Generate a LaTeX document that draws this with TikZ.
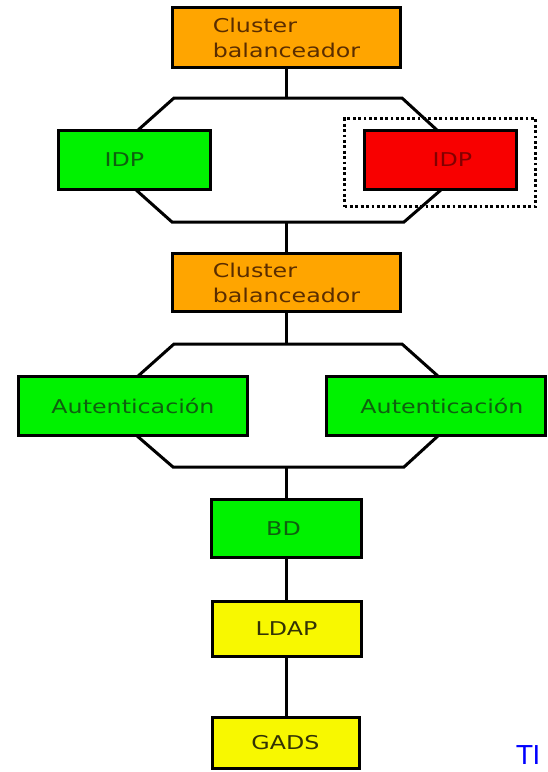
\documentclass[tikz,border=0pt]{standalone}
\usepackage{fontspec}
\setmainfont{DejaVu Sans}
\newfontfamily\boxfont[FakeStretch=1.25]{DejaVu Sans}
\usetikzlibrary{backgrounds}
\definecolor{fOrange}{RGB}{255,165,0}
\definecolor{tOrange}{RGB}{90,45,0}
\definecolor{fGreen}{RGB}{0,242,0}
\definecolor{tGreen}{RGB}{15,95,15}
\definecolor{fRed}{RGB}{248,0,0}
\definecolor{tRed}{RGB}{130,0,0}
\definecolor{fYellow}{RGB}{248,248,0}
\definecolor{tYellow}{RGB}{50,50,5}
\definecolor{tiBlue}{RGB}{0,0,255}
\begin{document}
\begin{tikzpicture}[x=1pt,y=-1pt,
  box/.style={draw=black, line width=3pt, inner sep=0pt,
    font=\boxfont\fontsize{19}{25}\selectfont},
  orangebox/.style={box, fill=fOrange, text=tOrange, align=left,
    minimum width=228pt, minimum height=60pt},
  greenbox/.style={box, fill=fGreen, text=tGreen},
  yellowbox/.style={box, fill=fYellow, text=tYellow},
  redbox/.style={box, fill=fRed, text=tRed},
  conn/.style={draw=black, line width=3pt},
  selbox/.style={draw=black, line width=2.8pt, dash pattern=on 2.8pt off 2.6pt,
    inner sep=0pt, fill=none}]
\useasboundingbox (0,0) rectangle (548,772);
\clip (0,0) rectangle (548,772);

% nodes
\node[orangebox, minimum height=60pt] (lb1) at (286.5,37.5) {Cluster\\balanceador};
\node[greenbox, minimum width=152pt, minimum height=59pt] (idpL) at (134.5,160) {IDP\hspace*{20pt}};
\node[redbox, minimum width=152pt, minimum height=59pt] (idpR) at (440.5,160) {\hspace*{24pt}IDP};
\node[selbox, minimum width=191pt, minimum height=88pt] (sel) at (440,162.5) {};
\node[orangebox, minimum height=58pt] (lb2) at (286.5,282.5) {Cluster\\balanceador};
\node[greenbox, minimum width=229pt, minimum height=59pt] (autL) at (133,406) {Autenticación};
\node[greenbox, minimum width=219pt, minimum height=59pt] (autR) at (436,406) {\hspace*{12pt}Autenticación};
\node[greenbox, minimum width=150pt, minimum height=58pt] (bd) at (286.5,528.5) {BD\hspace*{6pt}};
\node[yellowbox, minimum width=149pt, minimum height=55pt] (ldap) at (286.5,629) {LDAP};
\node[yellowbox, minimum width=147pt, minimum height=51pt] (gads) at (285.5,743) {GADS};
\node[anchor=base west, inner sep=0pt, text=tiBlue, font=\fontsize{26}{28}\selectfont] (ti) at (516.5,764.5) {TI};

% octagon corner points
\coordinate (o1top) at (286.5,98);
\coordinate (o1a) at (137,131);
\coordinate (o1tl) at (174,98);
\coordinate (o1tr) at (402,98);
\coordinate (o1d) at (438,131);
\coordinate (o1e) at (135,189);
\coordinate (o1bl) at (172,222);
\coordinate (o1br) at (404,222);
\coordinate (o1h) at (442,189);
\coordinate (o1bot) at (286.5,222);

\coordinate (o2top) at (286.5,344);
\coordinate (o2a) at (137,377);
\coordinate (o2tl) at (174,344);
\coordinate (o2tr) at (402,344);
\coordinate (o2d) at (439,377);
\coordinate (o2e) at (136,435);
\coordinate (o2bl) at (173,467);
\coordinate (o2br) at (404,467);
\coordinate (o2h) at (439,435);
\coordinate (o2bot) at (286.5,467);

\begin{scope}[on background layer]
  \draw[conn] (lb1) -- (o1top);
  \draw[conn] (o1a) -- (o1tl) -- (o1tr) -- (o1d);
  \draw[conn] (o1e) -- (o1bl) -- (o1br) -- (o1h);
  \draw[conn] (o1bot) -- (lb2);
  \draw[conn] (lb2) -- (o2top);
  \draw[conn] (o2a) -- (o2tl) -- (o2tr) -- (o2d);
  \draw[conn] (o2e) -- (o2bl) -- (o2br) -- (o2h);
  \draw[conn] (o2bot) -- (bd.north);
  \draw[conn] (bd.south) -- (bd.south |- ldap.north);
  \draw[conn] (ldap.south) -- (ldap.south |- gads.north);
\end{scope}
\end{tikzpicture}
\end{document}
